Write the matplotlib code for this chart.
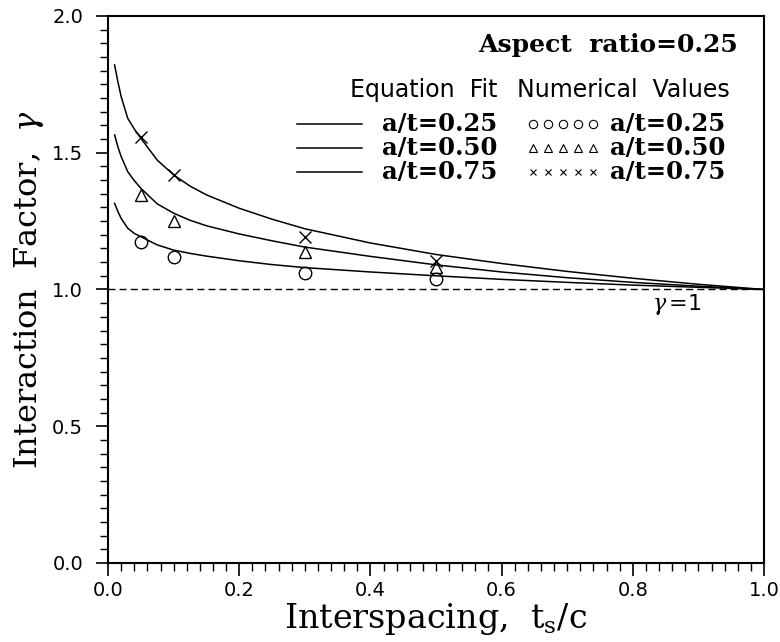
import matplotlib
matplotlib.use("Agg")
import matplotlib.pyplot as plt
import numpy as np
from matplotlib.ticker import MultipleLocator

plt.rcParams['mathtext.fontset'] = 'dejavuserif'
plt.rcParams['font.family'] = ['DejaVu Sans']

# equation fit curves
fit_x = [0.01, 0.015, 0.02, 0.03, 0.04, 0.05, 0.075, 0.1, 0.125, 0.15, 0.2, 0.25,
         0.3, 0.4, 0.5, 0.6, 0.7, 0.8, 0.9, 1.0]
fit_025 = [1.315, 1.285, 1.26, 1.224, 1.205, 1.193, 1.163, 1.144, 1.132, 1.122, 1.105, 1.091,
           1.08, 1.064, 1.05, 1.037, 1.026, 1.016, 1.008, 1.0]
fit_050 = [1.565, 1.522, 1.486, 1.431, 1.398, 1.37, 1.313, 1.279, 1.253, 1.233, 1.203, 1.178,
           1.155, 1.121, 1.09, 1.064, 1.043, 1.026, 1.012, 1.0]
fit_075 = [1.821, 1.76, 1.705, 1.626, 1.587, 1.553, 1.473, 1.419, 1.378, 1.346, 1.297, 1.257,
           1.222, 1.17, 1.128, 1.095, 1.066, 1.041, 1.019, 1.0]

# numerical values
num_x = [0.05, 0.1, 0.3, 0.5]
num_025 = [1.175, 1.118, 1.059, 1.037]
num_050 = [1.347, 1.250, 1.138, 1.083]
num_075 = [1.556, 1.418, 1.191, 1.105]

labels = ['a/t=0.25', 'a/t=0.50', 'a/t=0.75']
markers = ['o', '^', 'x']

fig = plt.figure(figsize=(7.8, 6.42), dpi=100)
ax = fig.add_axes([0.1385, 0.1231, 0.841, 0.852])

for ys in (fit_025, fit_050, fit_075):
    ax.plot(fit_x, ys, color='black', lw=1.1)

for ys, m in zip((num_025, num_050, num_075), markers):
    if m == 'x':
        ax.plot(num_x, ys, m, color='black', ms=8, mew=1.0)
    else:
        ax.plot(num_x, ys, m, mfc='none', mec='black', ms=9, mew=1.0)

ax.axhline(1.0, color='black', lw=1.0, ls=(0, (5, 3)))

ax.set_xlim(0, 1)
ax.set_ylim(0, 2)
ax.xaxis.set_major_locator(MultipleLocator(0.2))
ax.xaxis.set_minor_locator(MultipleLocator(0.02))
ax.yaxis.set_major_locator(MultipleLocator(0.5))
ax.yaxis.set_minor_locator(MultipleLocator(0.05))
ax.xaxis.set_major_formatter(plt.FormatStrFormatter('%.1f'))
ax.yaxis.set_major_formatter(plt.FormatStrFormatter('%.1f'))
ax.tick_params(which='major', direction='out', length=9, width=1.2, labelsize=14, pad=4)
ax.tick_params(axis='y', which='major', pad=9)
ax.tick_params(which='minor', direction='out', length=6, width=1.0)
for s in ax.spines.values():
    s.set_linewidth(1.5)

ax.set_xlabel(r'Interspacing,  t$_\mathregular{s}$/c', family='DejaVu Serif', fontsize=24, labelpad=1)
ax.set_ylabel(r'Interaction  Factor,  $\gamma$', family='DejaVu Serif', fontsize=23, labelpad=4)

# legend block, drawn by hand like the original
ax.text(0.960, 0.947, 'Aspect  ratio=0.25', transform=ax.transAxes, ha='right', va='center',
        fontsize=18, family='DejaVu Serif', weight='bold')
ax.text(0.369, 0.865, 'Equation  Fit', transform=ax.transAxes, ha='left', va='center', fontsize=17)
ax.text(0.623, 0.865, 'Numerical  Values', transform=ax.transAxes, ha='left', va='center', fontsize=17)

rows = [0.8026, 0.7587, 0.7148]
glyph_x = np.linspace(0.648, 0.740, 5)
for yy, lab, m in zip(rows, labels, markers):
    ax.plot([0.288, 0.387], [yy, yy], color='black', lw=1.1, transform=ax.transAxes)
    ax.text(0.418, yy, lab, transform=ax.transAxes, ha='left', va='center',
            fontsize=17.5, family='DejaVu Serif', weight='bold')
    if m == 'x':
        ax.plot(glyph_x, [yy] * 5, m, color='black', ms=5, mew=0.8, transform=ax.transAxes)
    else:
        ax.plot(glyph_x, [yy] * 5, m, mfc='none', mec='black', ms=6, mew=0.8, transform=ax.transAxes)
    ax.text(0.765, yy, lab, transform=ax.transAxes, ha='left', va='center',
            fontsize=17.5, family='DejaVu Serif', weight='bold')

ax.text(0.867, 0.4717, r'$\gamma\,$=1', transform=ax.transAxes, ha='center', va='center', fontsize=16)

fig.savefig('out.png', dpi=100)
